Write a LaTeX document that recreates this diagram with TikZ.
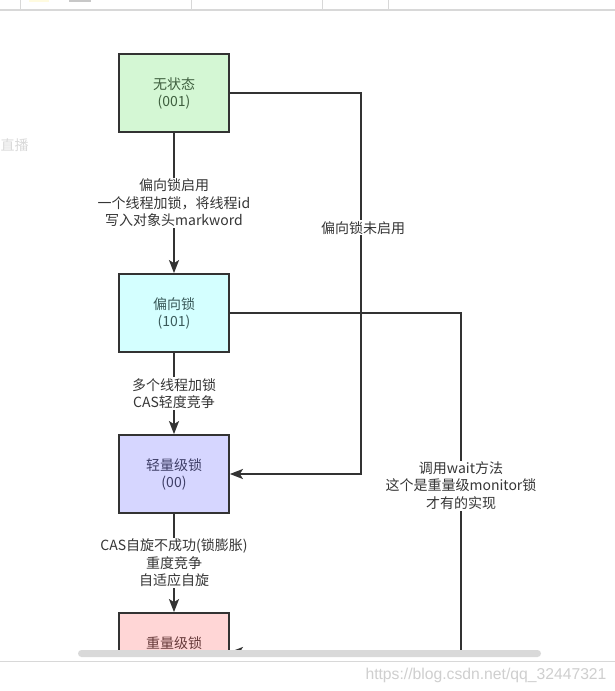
\documentclass[tikz,border=0pt]{standalone}
\usepackage{fontspec}
\setmainfont{Noto Sans CJK SC}
\newfontfamily\wmfont{Liberation Sans}
\usetikzlibrary{arrows.meta}
\definecolor{linec}{HTML}{333333}
\definecolor{labelc}{HTML}{363636}
\definecolor{fgreen}{HTML}{D4F7D4}
\definecolor{fcyan}{HTML}{D4FFFF}
\definecolor{flav}{HTML}{D6D6FF}
\definecolor{fpink}{HTML}{FFD6D6}
\definecolor{tgreen}{HTML}{3E5E3E}
\definecolor{tcyan}{HTML}{3A5A5A}
\definecolor{tlav}{HTML}{3E3E66}
\definecolor{tpink}{HTML}{663A3A}
\definecolor{chromec}{HTML}{D8D8D8}
\definecolor{scrollc}{HTML}{D9D9D9}
\definecolor{wmc}{HTML}{CFCFCF}
\begin{document}
\begin{tikzpicture}[x=1pt,y=-1pt,
  box/.style={draw=linec, line width=1.8pt, minimum width=110pt, minimum height=78pt,
    align=center, inner sep=0pt, font=\fontsize{14}{17}\selectfont},
  lbl/.style={fill=white, align=center, inner sep=1pt, text=labelc,
    font=\fontsize{14}{17.5}\selectfont},
  conn/.style={draw=linec, line width=1.8pt},
  arr/.style={conn, -{Stealth[length=13pt,width=10pt,inset=3pt]}}]
\useasboundingbox (0,0) rectangle (615,691);
\fill[white] (0,0) rectangle (615,691);
% top chrome
\fill[fill={rgb,255:red,255;green,251;blue,224}] (29,0) rectangle (49,1.5);
\fill[fill={rgb,255:red,200;green,200;blue,200}] (69,0) rectangle (91,1.5);
\foreach \xx in {20,191,322,388} \draw[chromec, line width=0.8pt] (\xx,0) -- (\xx,10);
\draw[chromec, line width=1.2pt] (0,10) -- (615,10);
% diagram
\begin{scope}
\clip (0,11) rectangle (615,649);
\node[lbl, anchor=west, text=gray!30, inner sep=0pt] (zb) at (0.5,145) {直播};
\node[box, fill=fgreen, text=tgreen] (b1) at (174,93) {无状态\\(001)};
\node[box, fill=fcyan, text=tcyan] (b2) at (174,313) {偏向锁\\(101)};
\node[box, fill=flav, text=tlav] (b3) at (174,474) {轻量级锁\\(00)};
\node[box, fill=fpink] (b4) at (174,652) {};
\node[text=tpink, font=\fontsize{14}{17}\selectfont, inner sep=0pt] (b4t) at (174,643) {重量级锁};
\coordinate (k1) at (361,93);
\coordinate (k2) at (361,474);
\coordinate (k3) at (461,313);
\coordinate (k4) at (461,652);
\draw[arr] (b1) -- node[lbl] {偏向锁启用\\一个线程加锁，将线程id\\写入对象头markword} (b2);
\draw[arr] (b2) -- node[lbl] {多个线程加锁\\CAS轻度竞争} (b3);
\draw[arr] (b3) -- node[lbl] {CAS自旋不成功(锁膨胀)\\重度竞争\\自适应自旋} (b4);
\draw[arr] (b1.east) -- (k1) -- node[lbl, pos=0.354, xshift=2pt] {偏向锁未启用} (k2) -- (b3.east);
\draw[arr] (b2.east) -- (k3) -- node[lbl, pos=0.509] {调用wait方法\\这个是重量级monitor锁\\才有的实现} (k4) -- (b4.east);
\end{scope}
% scrollbar and footer
\fill[scrollc, rounded corners=3.5pt] (78,650) rectangle (541,657);
\draw[chromec, line width=1pt] (0,661.5) -- (615,661.5);
\node[text=wmc, font=\wmfont\fontsize{15.7}{18}\selectfont, inner sep=0pt] (wm) at (486,675) {https://blog.csdn.net/qq\_32447321};
\end{tikzpicture}
\end{document}
